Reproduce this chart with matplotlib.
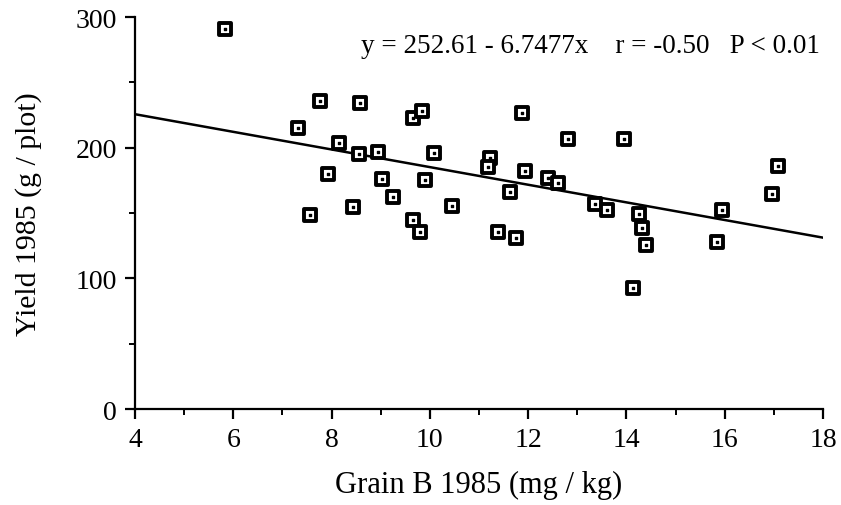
import matplotlib
matplotlib.use("Agg")
import matplotlib.pyplot as plt
import numpy as np
from matplotlib.ticker import MultipleLocator

grain_b = [5.83, 7.32, 7.77, 7.56, 7.93, 8.15, 8.58, 8.56, 8.44, 8.94,
           9.03, 9.25, 9.66, 9.84, 9.66, 9.80, 9.90, 10.08, 10.45, 11.22,
           11.18, 11.39, 11.63, 11.75, 11.88, 11.94, 12.40, 12.61, 12.81, 13.36,
           13.60, 13.95, 14.13, 14.26, 14.32, 14.40, 15.84, 15.95, 16.96, 17.09]
yield_ = [290.8, 215, 235.7, 148.5, 179.8, 203.6, 234.2, 195, 154.6, 196.7,
          176, 162.2, 222.7, 228, 144.6, 135.5, 175, 196, 155, 192,
          185, 135.5, 166, 131, 226.5, 182, 177, 173, 207, 157,
          152, 207, 92.6, 149, 138.5, 125.5, 127.8, 152, 164.5, 186]
intercept = 252.61
slope = -6.7477
x_ticks = [4, 6, 8, 10, 12, 14, 16, 18]
y_ticks = [0, 100, 200, 300]

plt.rcParams['font.family'] = ['Liberation Serif', 'DejaVu Serif']

fig = plt.figure(figsize=(8.41, 5.06), dpi=100)
ax = fig.add_axes([0.1605, 0.1897, 0.8181, 0.7747])

ax.scatter(grain_b, yield_, marker='s', s=75, facecolor='white',
           edgecolor='black', linewidths=2.8, zorder=3)
ax.scatter(grain_b, yield_, marker='s', s=3, color='black', zorder=4)

xl = np.array([4, 18])
ax.plot(xl, intercept + slope * xl, color='black', lw=1.8, zorder=2)

ax.set_xlim(4, 18)
ax.set_ylim(0, 300)
ax.set_xticks(x_ticks)
ax.set_yticks(y_ticks)
ax.xaxis.set_minor_locator(MultipleLocator(1))
ax.yaxis.set_minor_locator(MultipleLocator(50))
for s in ['top', 'right']:
    ax.spines[s].set_visible(False)
for s in ['left', 'bottom']:
    ax.spines[s].set_linewidth(1.6)
ax.tick_params(which='major', length=7, width=1.6, labelsize=20, pad=6)
ax.tick_params(which='minor', length=4, width=1.4)

ax.set_xlabel('Grain B 1985 (mg / kg)', fontsize=22, labelpad=13)
ax.set_ylabel('Yield 1985 (g / plot)', fontsize=21.5, labelpad=24)

ax.text(0.995, 0.96, 'y = 252.61 - 6.7477x    r = -0.50   P < 0.01',
        transform=ax.transAxes, ha='right', va='top', fontsize=19.5)

fig.savefig('out.png', dpi=100)
